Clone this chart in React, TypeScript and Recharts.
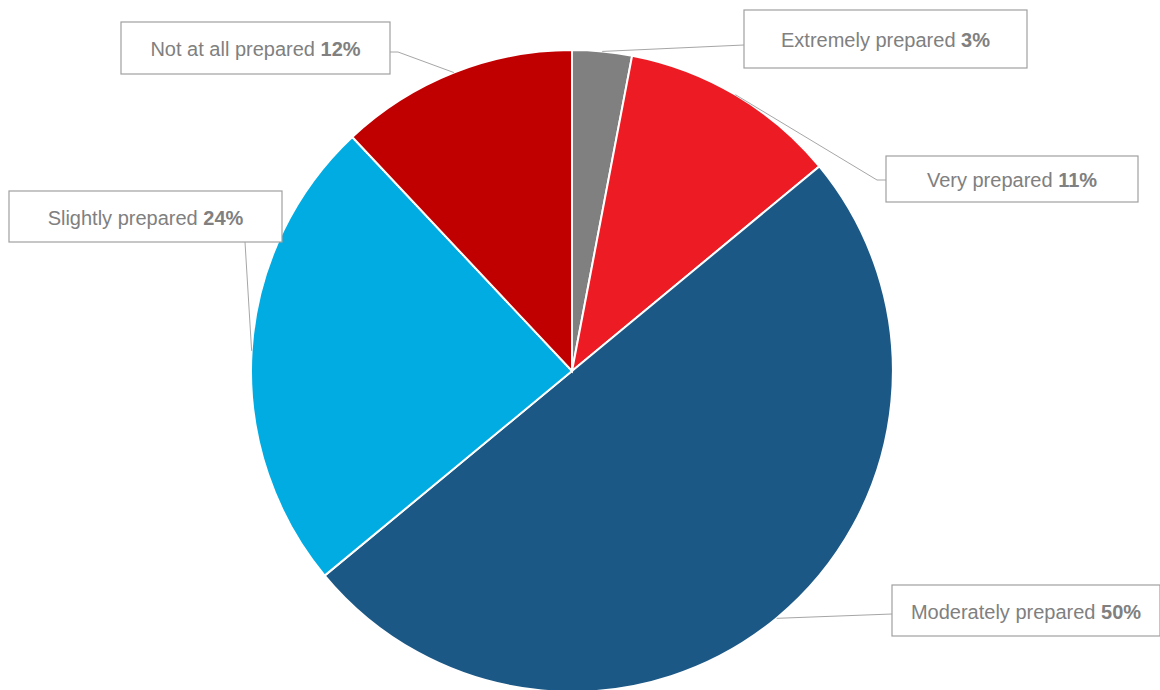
import React from "react";
import { PieChart, Pie, Cell } from "recharts";

const categories = [
  "Extremely prepared",
  "Very prepared",
  "Moderately prepared",
  "Slightly prepared",
  "Not at all prepared",
];
const shares = [3, 11, 50, 24, 12];
const colors = ["#808080", "#ED1C24", "#1B5886", "#00ACE2", "#C00000"];

// label boxes: box rect + where the leader enters it (elbow optional)
const boxes = [
  { x: 744, y: 10, w: 283, h: 58, ax: 744, ay: 45 },
  { x: 886, y: 156, w: 252, h: 46, ax: 886, ay: 180, ex: 877 },
  { x: 892, y: 585, w: 268, h: 51, ax: 892, ay: 614 },
  { x: 9, y: 191, w: 273, h: 51, ax: 245, ay: 242 },
  { x: 121, y: 22, w: 269, h: 52, ax: 390, ay: 52, ex: 398 },
];

const data = categories.map((name, i) => ({ name, value: shares[i] }));

const RAD = Math.PI / 180;

function BoxLabel(props: any) {
  const { cx, cy, midAngle, outerRadius, index } = props;
  const b = boxes[index];
  const px = cx + outerRadius * Math.cos(-midAngle * RAD);
  const py = cy + outerRadius * Math.sin(-midAngle * RAD);
  const pts =
    b.ex !== undefined
      ? `${px},${py} ${b.ex},${b.ay} ${b.ax},${b.ay}`
      : `${px},${py} ${b.ax},${b.ay}`;
  return (
    <g>
      <polyline points={pts} fill="none" stroke="#A6A6A6" strokeWidth={1} />
      <rect
        x={b.x}
        y={b.y}
        width={b.w}
        height={b.h}
        fill="#fff"
        stroke="#A0A0A0"
        strokeWidth={1.2}
      />
      <text
        x={b.x + b.w / 2}
        y={b.y + b.h / 2 + 1}
        textAnchor="middle"
        dominantBaseline="central"
        fontFamily="'Liberation Sans', Arial, sans-serif"
        fontSize={20}
        fill="#808080"
      >
        {categories[index]}{" "}
        <tspan fontWeight="bold">{shares[index]}%</tspan>
      </text>
    </g>
  );
}

export default function App() {
  return (
    <div style={{ position: "absolute", left: 0, top: 0, background: "#fff" }}>
      <PieChart
        width={1160}
        height={690}
        margin={{ top: 0, right: 0, bottom: 0, left: 0 }}
      >
        <Pie
          data={data}
          dataKey="value"
          nameKey="name"
          cx={572}
          cy={371}
          outerRadius={321}
          startAngle={90}
          endAngle={-270}
          stroke="#fff"
          strokeWidth={2}
          label={BoxLabel}
          labelLine={false}
          isAnimationActive={false}
        >
          {data.map((d, i) => (
            <Cell key={d.name} fill={colors[i]} />
          ))}
        </Pie>
      </PieChart>
    </div>
  );
}
